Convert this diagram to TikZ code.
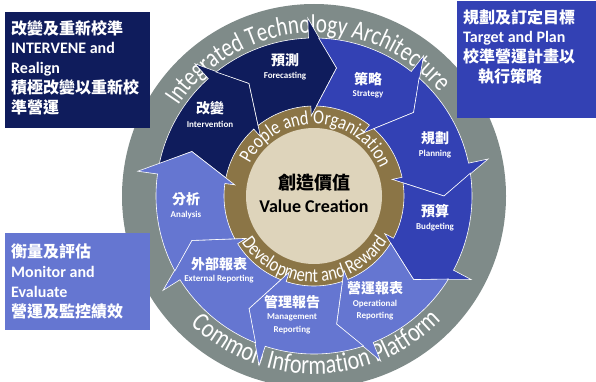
\documentclass[tikz,border=0pt]{standalone}
\usepackage{fontspec}
\setmainfont{Carlito}
\newfontfamily\cjk{Noto Sans CJK TC}
% tall, slightly condensed faces for the lettering that follows the rings
\newfontfamily\ringfont[FakeStretch=0.78]{Carlito}
\newfontfamily\innerringfont[FakeStretch=0.82]{Carlito}
\usetikzlibrary{decorations.text}

\definecolor{navy}{RGB}{15,28,92}
\definecolor{midblue}{RGB}{51,65,180}
\definecolor{lightblue}{RGB}{101,118,209}
\definecolor{ringgray}{RGB}{127,139,137}
\definecolor{ringtan}{RGB}{139,117,70}
\definecolor{beige}{RGB}{222,212,187}

\tikzset{
  seg/.style={draw=white, line width=0.6pt, line join=miter},
  zh/.style={font=\cjk\bfseries\fontsize{14}{16}\selectfont, text=white, inner sep=0pt},
  en/.style={font=\bfseries\fontsize{9}{12.5}\selectfont, text=white, inner sep=0pt, align=center},
  panel/.style={inner sep=0pt, anchor=north west},
  paneltext/.style={font=\bfseries\fontsize{16}{19.8}\selectfont, text=white, align=left, inner sep=0pt, anchor=north west},
}
\newcommand\zhline[1]{{\cjk #1}}

\begin{document}
\begin{tikzpicture}[x=1pt,y=1pt]
\clip (0,0) rectangle (596,381);

\begin{scope}[shift={(314,185)}]
  % outer platform ring
  \fill[ringgray] (0,0) circle[radius=192];
  \path[decorate, decoration={text along path, text align=center,
      text={|\color{white}\ringfont\fontsize{27}{27}\selectfont|Integrated Technology Architecture}}]
    (182:163) arc[start angle=182, end angle=4, radius=163];
  \path[decorate, decoration={text along path, text align=center,
      text={|\color{white}\innerringfont\fontsize{27}{27}\selectfont|Common Information Platform}}]
    (196:178) arc[start angle=196, end angle=346, radius=178];

  % inner ring and core
  \fill[ringtan] (0,0) circle[radius=92];
  \fill[beige] (0,0) circle[radius=68];
  \path[decorate, decoration={text along path, text align=center,
      text={|\color{white}\innerringfont\fontsize{20}{20}\selectfont|People and Organization}}]
    (178:72) arc[start angle=178, end angle=-2, radius=72];
  \path[decorate, decoration={text along path, text align=center,
      text={|\color{white}\innerringfont\fontsize{20}{20}\selectfont|Development and Reward}}]
    (190:86) arc[start angle=190, end angle=351, radius=86];

  % nine chevron segments running clockwise; each tail is notched to fit the previous head
  \foreach \t/\c in {120/navy, 80/navy, 40/midblue, 0/midblue, -40/midblue,
                     -80/lightblue, -120/lightblue, -160/lightblue, -200/lightblue}
    \filldraw[seg, fill=\c]
      (\t+48.3:158) arc[start angle=\t+48.3, end angle=\t+12, radius=158]
      -- (\t+12:178) -- (\t:130) -- (\t+12:80) -- (\t+12:90)
      arc[start angle=\t+12, end angle=\t+48.4, radius=90]
      -- (\t+40:130) -- cycle;
\end{scope}

% segment labels
\node[zh] (fczh) at (285,321) {預測};
\node[en] (fcen) at (285,305) {Forecasting};
\node[zh] (stzh) at (368,302) {策略};
\node[en] (sten) at (368,287) {Strategy};
\node[zh] (inzh) at (210,273) {改變};
\node[en] (inen) at (210,257) {Intervention};
\node[zh] (plzh) at (435,243) {規劃};
\node[en] (plen) at (435,227) {Planning};
\node[zh] (anzh) at (186,182) {分析};
\node[en] (anen) at (186,166) {Analysis};
\node[zh] (bdzh) at (435,170) {預算};
\node[en] (bden) at (435,154) {Budgeting};
\node[zh] (exzh) at (219,117) {外部報表};
\node[en] (exen) at (219,102) {External Reporting};
\node[zh] (opzh) at (375,93) {營運報表};
\node[en] (open) at (375,71) {Operational\\Reporting};
\node[zh] (mgzh) at (292,79) {管理報告};
\node[en] (mgen) at (292,57) {Management\\Reporting};

% core label
\node[font=\cjk\bfseries\fontsize{18}{20}\selectfont, text=black, inner sep=0pt] (corezh) at (314,198) {創造價值};
\node[font=\bfseries\fontsize{18}{20}\selectfont, text=black, inner sep=0pt] (coreen) at (314,175) {Value Creation};

% side panels
\node[panel, fill=navy, minimum width=145pt, minimum height=116pt] (tlbox) at (5,369) {};
\node[paneltext] (tltext) at (11,361)
  {\zhline{改變及重新校準}\\INTERVENE and\\Realign\\\zhline{積極改變以重新校}\\\zhline{準營運}};

\node[panel, fill=midblue, minimum width=140pt, minimum height=117pt] (trbox) at (457,380) {};
\node[paneltext] (trtext) at (463,372)
  {\zhline{規劃及訂定目標}\\Target and Plan\\\zhline{校準營運計畫以}\\\hspace*{15pt}\zhline{執行策略}};

\node[panel, fill=lightblue, minimum width=145pt, minimum height=97pt] (blbox) at (5,148) {};
\node[paneltext] (bltext) at (11,137)
  {\zhline{衡量及評估}\\Monitor and\\Evaluate\\\zhline{營運及監控績效}};
\end{tikzpicture}
\end{document}
